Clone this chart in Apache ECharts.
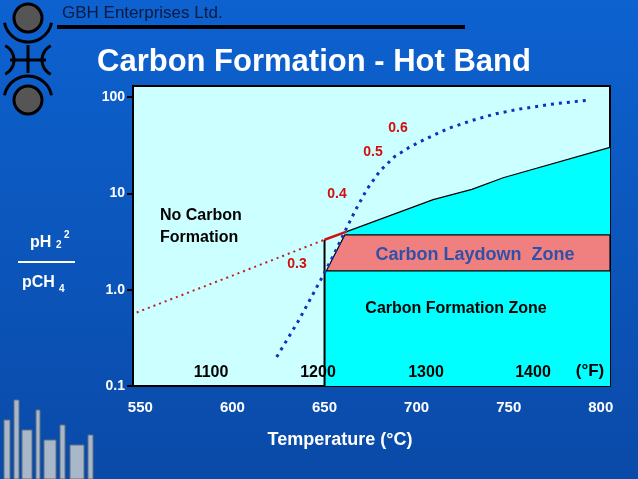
<!DOCTYPE html>
<html><head><meta charset="utf-8">
<script src="https://cdn.jsdelivr.net/npm/echarts@6/dist/echarts.min.js"></script>
<style>html,body{margin:0;padding:0;}#c{width:638px;height:479px;}</style>
</head><body><div id="c"></div>
<script>
const xTicks = [550, 600, 650, 700, 750, 800];
const yTicks = [0.1, 1, 10, 100];
const fTicks = ['1100', '1200', '1300', '1400'];
const boundaryBlack = [[662, 4], [709, 8.6], [730, 11], [747, 14.5], [805, 30]];
const boundaryVertical = [[650, 0.1], [650, 3.3]];
const boundaryRed = [[650, 3.3], [662, 4]];
const redDotted = [[548, 0.58], [600, 1.4], [650, 3.3]];
const blueDotted = [[624, 0.2], [636, 0.48], [648, 1.27], [655, 2.3], [661, 4], [667, 6.8], [673, 11], [680, 17], [688, 24], [696, 30], [704, 36], [717, 47], [730, 57], [743, 67], [756, 75], [775, 85], [794, 93]];
const cyanZone = [[650, 0.1], [650, 1.57], [651, 1.57], [661, 3.7], [662, 4], [709, 8.6], [730, 11], [747, 14.5], [805, 30], [805, 0.1]];
const laydownZone = [[651, 1.57], [805, 1.57], [805, 3.7], [661, 3.7]];
const ratioLabels = [['0.6', 398, 128], ['0.5', 373, 152], ['0.4', 337, 194], ['0.3', 297, 264]];

const chart = echarts.init(document.getElementById('c'));
function poly(pts, fill, stroke) {
  return {
    type: 'custom', coordinateSystem: 'cartesian2d', silent: true, z: 1,
    data: [0],
    renderItem: (p, api) => ({
      type: 'polygon',
      shape: { points: pts.map(d => api.coord(d)) },
      style: { fill: fill, stroke: stroke, lineWidth: 1.2 }
    })
  };
}
const txt = (t, x, y, o) => Object.assign({ type: 'text', x, y, z: 100, style: Object.assign({ text: t, fill: '#000', font: 'bold 16px Arial', textAlign: 'left', textVerticalAlign: 'middle' }, o || {}) });
const graphics = [
  { type: 'rect', shape: { x: 57, y: 25, width: 408, height: 4 }, style: { fill: '#000' } },
  txt('GBH Enterprises Ltd.', 62, 13, { font: '17px Arial', fill: '#0a1a40' }),
  txt('Carbon Formation - Hot Band', 97, 62, { font: 'bold 31px Arial', fill: '#fff' }),
  { type: 'circle', shape: { cx: 28, cy: 18, r: 14 }, style: { fill: '#555', stroke: '#000', lineWidth: 3 } },
  { type: 'circle', shape: { cx: 28, cy: 100, r: 14 }, style: { fill: '#555', stroke: '#000', lineWidth: 3 } },
  { type: 'arc', shape: { cx: 28, cy: 18, r: 24, startAngle: 0.2, endAngle: Math.PI - 0.2 }, style: { stroke: '#000', lineWidth: 3, fill: null } },
  { type: 'arc', shape: { cx: 28, cy: 100, r: 24, startAngle: Math.PI + 0.2, endAngle: 2 * Math.PI - 0.2 }, style: { stroke: '#000', lineWidth: 3, fill: null } },
  { type: 'line', shape: { x1: 28, y1: 45, x2: 28, y2: 73 }, style: { stroke: '#000', lineWidth: 3 } },
  { type: 'line', shape: { x1: 10, y1: 60, x2: 46, y2: 60 }, style: { stroke: '#000', lineWidth: 3 } },
  { type: 'arc', shape: { cx: -2, cy: 60, r: 16, startAngle: -1.1, endAngle: 1.1 }, style: { stroke: '#000', lineWidth: 3, fill: null } },
  { type: 'arc', shape: { cx: 58, cy: 60, r: 16, startAngle: Math.PI - 1.1, endAngle: Math.PI + 1.1 }, style: { stroke: '#000', lineWidth: 3, fill: null } },
  txt('pH', 30, 243, { fill: '#fff', font: 'bold 16px Arial' }),
  txt('2', 56, 245, { fill: '#fff', font: 'bold 10px Arial' }),
  txt('2', 64, 235, { fill: '#fff', font: 'bold 10px Arial' }),
  { type: 'line', shape: { x1: 18, y1: 262, x2: 75, y2: 262 }, style: { stroke: '#fff', lineWidth: 2 } },
  txt('pCH', 22, 283, { fill: '#fff', font: 'bold 16px Arial' }),
  txt('4', 59, 289, { fill: '#fff', font: 'bold 10px Arial' }),
  txt('Temperature (\u00b0C)', 340, 440, { fill: '#fff', font: 'bold 18px Arial', textAlign: 'center' }),
  txt('No Carbon', 160, 216),
  txt('Formation', 160, 238),
  txt('Carbon Laydown  Zone', 475, 255, { fill: '#3050a8', font: 'bold 18px Arial', textAlign: 'center' }),
  txt('Carbon Formation Zone', 456, 309, { textAlign: 'center' }),
  txt('(\u00b0F)', 590, 371, { font: 'bold 17px Arial', textAlign: 'center' })
];
fTicks.forEach((t, i) => graphics.push(txt(t, [211, 318, 426, 533][i], 373, { textAlign: 'center' })));
ratioLabels.forEach(r => graphics.push(txt(r[0], r[1], r[2], { fill: '#d01010', font: 'bold 14px Arial', textAlign: 'center' })));
[[4, 420, 6, 59], [14, 400, 5, 79], [22, 430, 10, 49], [36, 410, 4, 69], [44, 440, 12, 39], [60, 425, 5, 54], [70, 445, 14, 34], [88, 435, 5, 44]].forEach(r =>
  graphics.push({ type: 'rect', shape: { x: r[0], y: r[1], width: r[2], height: r[3] }, style: { fill: '#a8b8c8', stroke: '#607080' } }));

chart.setOption({
  backgroundColor: new echarts.graphic.LinearGradient(0, 0, 0, 1, [{ offset: 0, color: '#0d62d0' }, { offset: 1, color: '#0a4aa8' }]),
  animation: false,
  grid: { left: 133, right: 28, top: 86, bottom: 93, show: true, backgroundColor: '#ccffff', borderColor: '#000', borderWidth: 2 },
  xAxis: {
    type: 'value', min: 546, max: 805, interval: 50,
    axisLine: { show: false }, axisTick: { show: false }, splitLine: { show: false },
    axisLabel: { color: '#fff', fontWeight: 'bold', fontSize: 15, margin: 14, fontFamily: 'Arial', customValues: xTicks }
  },
  yAxis: {
    type: 'log', min: 0.1, max: 130, logBase: 10,
    axisLine: { show: false }, splitLine: { show: false },
    axisTick: { show: true, inside: false, length: 6, lineStyle: { color: '#000', width: 2 }, customValues: yTicks },
    axisLabel: { color: '#fff', fontWeight: 'bold', fontSize: 14, fontFamily: 'Arial', margin: 8, customValues: yTicks,
      formatter: v => (Math.abs(v - 1) < 1e-6 ? '1.0' : String(+v.toPrecision(3))) }
  },
  graphic: graphics,
  series: [
    poly(cyanZone, '#00ffff', null),
    poly(laydownZone, '#f08080', '#000'),
    { type: 'line', data: boundaryVertical, symbol: 'none', z: 3, lineStyle: { color: '#000', width: 2 } },
    { type: 'line', data: boundaryBlack, symbol: 'none', z: 3, lineStyle: { color: '#000', width: 1.2 } },
    { type: 'line', data: boundaryRed, symbol: 'none', z: 4, lineStyle: { color: '#d01010', width: 2.5 } },
    { type: 'line', data: redDotted, symbol: 'none', z: 3, lineStyle: { color: '#c02020', width: 2, type: [2, 4] } },
    { type: 'line', data: blueDotted, symbol: 'none', z: 5, lineStyle: { color: '#1030c0', width: 3, type: [3, 5] } }
  ]
});
</script></body></html>
